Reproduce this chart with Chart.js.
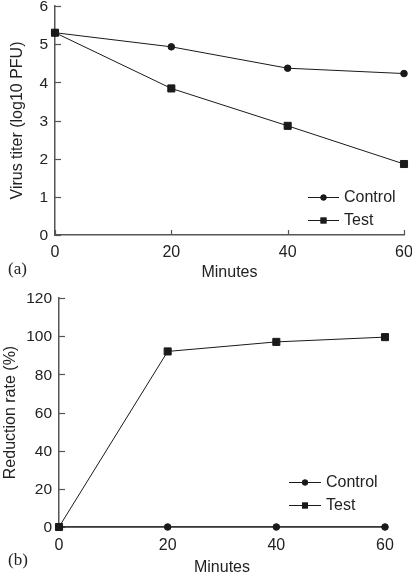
<!DOCTYPE html>
<html><head><meta charset="utf-8">
<script src="https://cdn.jsdelivr.net/npm/chart.js@4"></script>
<style>
html,body{margin:0;padding:0;background:#fff;width:412px;height:573px;overflow:hidden}
canvas{position:absolute;left:0}
#ca{top:0}
#cb{top:283px}
.lab{position:absolute;font-family:"Liberation Serif",serif;font-size:17px;color:#222;line-height:20px}
</style></head><body>
<canvas id="ca" width="412" height="283"></canvas>
<canvas id="cb" width="412" height="294"></canvas>
<div class="lab" style="left:8px;top:259px">(a)</div>
<div class="lab" style="left:8px;top:550px">(b)</div>
<script>
const minutes = [0, 20, 40, 60];
const seriesNames = ['Control', 'Test'];
const titerControl = [5.3, 4.93, 4.37, 4.23];
const titerTest = [5.3, 3.84, 2.86, 1.86];
const reductionControl = [0, 0, 0, 0];
const reductionTest = [0, 92, 97, 99.5];
const titerTicks = [0, 1, 2, 3, 4, 5, 6];
const reductionTicks = [0, 20, 40, 60, 80, 100, 120];
const minuteTicks = [0, 20, 40, 60];

const FONT = '"Liberation Sans", Arial, sans-serif';
const AXIS = '#555';
const INK = '#1a1a1a';

function pts(ys){ return minutes.map((m,i)=>({x:m,y:ys[i]})); }

function makeDatasets(ctrl, test){
  return [
    {label:seriesNames[0], data:pts(ctrl), borderColor:INK, backgroundColor:INK, borderWidth:1,
     pointStyle:'circle', pointRadius:3.3, pointHoverRadius:3.3, clip:false, tension:0},
    {label:seriesNames[1], data:pts(test), borderColor:INK, backgroundColor:INK, borderWidth:1,
     pointStyle:'rect', pointRadius:5, pointHoverRadius:5, clip:false, tension:0}
  ];
}

const inwardTicks = {
  id:'inwardTicks',
  beforeDatasetsDraw(chart, args, opts){
    const {ctx, scales:{x,y}, chartArea:a} = chart;
    ctx.save();
    ctx.strokeStyle = AXIS; ctx.lineWidth = 1.2;
    if (opts.xTicks) x.ticks.forEach(t=>{ const px = Math.round(x.getPixelForValue(t.value))+0.5;
      ctx.beginPath(); ctx.moveTo(px,a.bottom); ctx.lineTo(px,a.bottom-5); ctx.stroke(); });
    y.ticks.forEach(t=>{ const py = Math.round(y.getPixelForValue(t.value))+0.5;
      ctx.beginPath(); ctx.moveTo(a.left,py); ctx.lineTo(a.left+6,py); ctx.stroke(); });
    ctx.restore();
  }
};

const lineLegend = {
  id:'lineLegend',
  afterDraw(chart, args, opts){
    const ctx = chart.ctx;
    ctx.save();
    chart.data.datasets.forEach((ds,i)=>{
      const y = opts.y + i*opts.gap;
      ctx.strokeStyle = INK; ctx.lineWidth = 1;
      ctx.beginPath(); ctx.moveTo(opts.x, y+0.5); ctx.lineTo(opts.x+opts.len, y+0.5); ctx.stroke();
      ctx.fillStyle = INK;
      Chart.helpers.drawPoint(ctx, {pointStyle:ds.pointStyle, radius: ds.pointStyle==='rect'?4.2:3, rotation:0, borderWidth:0},
        opts.x+opts.len/2, y+0.5);
      ctx.fill();
      ctx.fillStyle = '#222';
      ctx.font = '16px ' + FONT;
      ctx.textBaseline = 'middle';
      ctx.fillText(ds.label, opts.x+opts.len+5, y+1);
    });
    ctx.restore();
  }
};

function makeChart(id, ctrl, test, yTicks, yTitle, cfg){
  return new Chart(document.getElementById(id), {
    type:'line',
    data:{datasets:makeDatasets(ctrl,test)},
    plugins:[inwardTicks, lineLegend],
    options:{
      responsive:false, animation:false, devicePixelRatio:1,
      layout:{padding:{left:0,right:cfg.right,top:cfg.top,bottom:0}},
      plugins:{legend:{display:false}, tooltip:{enabled:false}, lineLegend:cfg.legend, inwardTicks:{xTicks:cfg.xTicks}},
      scales:{
        x:{type:'linear', min:minuteTicks[0], max:minuteTicks[minuteTicks.length-1],
           afterBuildTicks(s){ s.ticks = minuteTicks.map(v=>({value:v})); },
           afterFit(s){ s.height = cfg.xh; s.paddingLeft=0; s.paddingRight=0; },
           grid:{display:false, drawTicks:false},
           border:{display:true, color:AXIS, width:1.5},
           ticks:{color:'#222', font:{family:FONT, size:16}, padding:cfg.xpad},
           title:{display:true, text:'Minutes', color:'#222', font:{family:FONT, size:16}, padding:{top:0,bottom:cfg.tpad}}},
        y:{type:'linear', min:yTicks[0], max:yTicks[yTicks.length-1],
           afterBuildTicks(s){ s.ticks = yTicks.map(v=>({value:v})); },
           afterFit(s){ s.width = cfg.yw; s.paddingTop=0; s.paddingBottom=0; },
           grid:{display:false, drawTicks:false},
           border:{display:true, color:AXIS, width:1.5},
           ticks:{color:'#222', font:{family:FONT, size:15.5}, padding:7, labelOffset:1},
           title:{display:true, text:yTitle, color:'#222', font:{family:FONT, size:16}, padding:{top:cfg.ytp,bottom:0}}}
      }
    }
  });
}

makeChart('ca', titerControl, titerTest, titerTicks, 'Virus titer (log10 PFU)',
  {right:8, top:6, xh:48, yw:55, xpad:8, tpad:1, ytp:8, xTicks:true, legend:{x:308, y:197, gap:23, len:31}});
makeChart('cb', reductionControl, reductionTest, reductionTicks, 'Reduction rate (%)',
  {right:27, top:15, xh:50, yw:59, xpad:9, tpad:0, ytp:1, xTicks:false, legend:{x:289, y:199, gap:23, len:32}});
</script>
</body></html>
